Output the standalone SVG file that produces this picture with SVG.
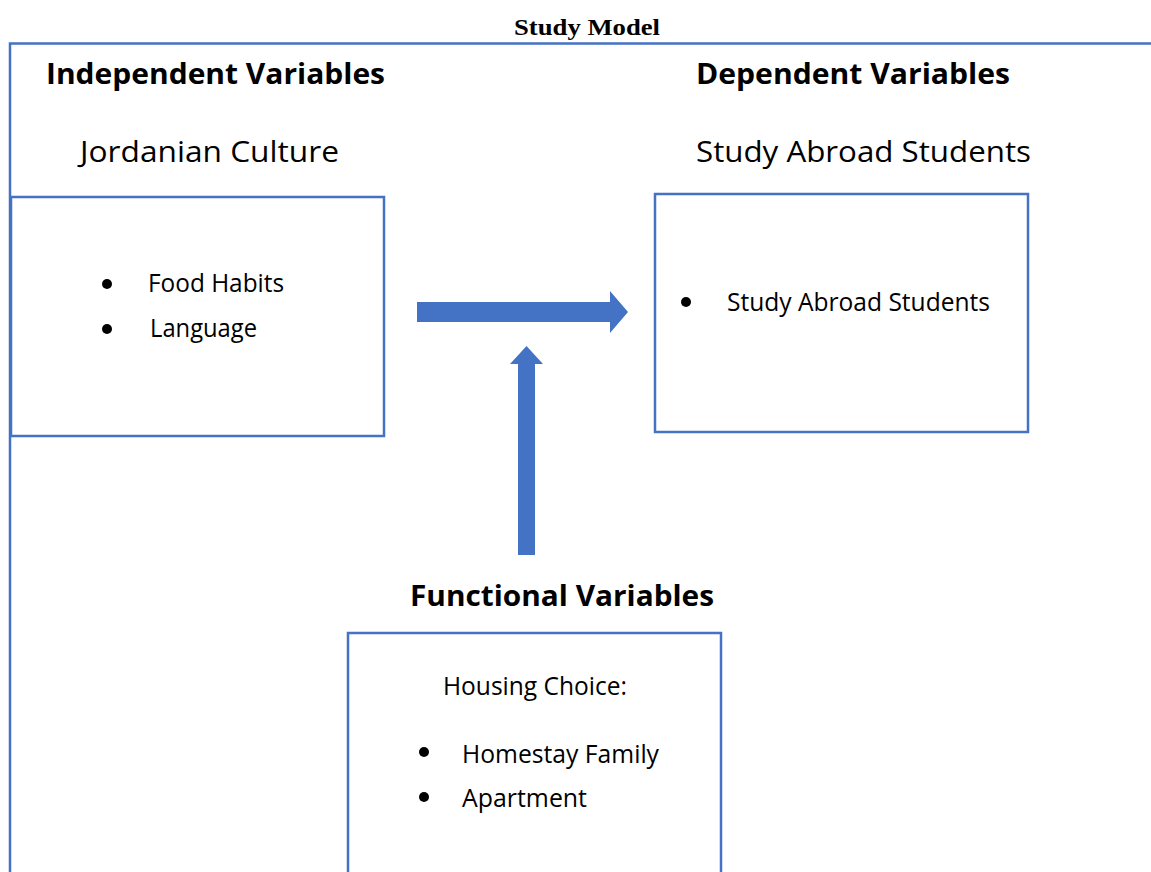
<svg xmlns="http://www.w3.org/2000/svg" width="1151" height="872" viewBox="0 0 1151 872">
<style>
.frame{fill:none;stroke:#4472C4;stroke-width:2.5}
.box{fill:#FFFFFF;stroke:#4472C4;stroke-width:2.5}
.arrow{fill:#4472C4;stroke:none}
.title{font-family:"Liberation Serif","Times New Roman",serif;font-weight:bold;font-size:24px;fill:#000}
.head{font-family:"Open Sans","Noto Sans",sans-serif;font-weight:bold;font-size:28px;fill:#000}
.sub{font-family:"Open Sans","Noto Sans",sans-serif;font-size:30px;fill:#000}
.body{font-family:"Open Sans","Noto Sans",sans-serif;font-size:26px;fill:#000}
.dot{fill:#000}
</style>
<rect width="1151" height="872" fill="#FFFFFF"/>
<text class="title" x="514" y="35" textLength="146" lengthAdjust="spacingAndGlyphs">Study Model</text>
<path class="frame" d="M10,872 V43.5 H1151"/>
<g id="independent">
<text class="head" x="46" y="84" textLength="339" lengthAdjust="spacingAndGlyphs">Independent Variables</text>
<text class="sub" x="80" y="162" textLength="259" lengthAdjust="spacingAndGlyphs">Jordanian Culture</text>
<rect class="box" x="11" y="197" width="373" height="239"/>
<circle class="dot" cx="107" cy="284" r="5"/>
<text class="body" x="148" y="292" textLength="136" lengthAdjust="spacingAndGlyphs">Food Habits</text>
<circle class="dot" cx="107" cy="329" r="5"/>
<text class="body" x="150" y="337" textLength="107" lengthAdjust="spacingAndGlyphs">Language</text>
</g>
<g id="dependent">
<text class="head" x="696" y="84" textLength="314" lengthAdjust="spacingAndGlyphs">Dependent Variables</text>
<text class="sub" x="696" y="162" textLength="335" lengthAdjust="spacingAndGlyphs">Study Abroad Students</text>
<rect class="box" x="655" y="194" width="373" height="238"/>
<circle class="dot" cx="686" cy="302" r="5"/>
<text class="body" x="727" y="311" textLength="263" lengthAdjust="spacingAndGlyphs">Study Abroad Students</text>
</g>
<g id="functional">
<text class="head" x="410" y="606" textLength="304" lengthAdjust="spacingAndGlyphs">Functional Variables</text>
<rect class="box" x="348" y="633" width="373" height="245"/>
<text class="body" x="443" y="695" textLength="184" lengthAdjust="spacingAndGlyphs">Housing Choice:</text>
<circle class="dot" cx="424" cy="752" r="5"/>
<text class="body" x="462" y="763" textLength="197" lengthAdjust="spacingAndGlyphs">Homestay Family</text>
<circle class="dot" cx="424" cy="797" r="5"/>
<text class="body" x="462" y="807" textLength="125" lengthAdjust="spacingAndGlyphs">Apartment</text>
</g>
<g id="connectors">
<polygon class="arrow" points="417,302 610,302 610,291 628,312 610,333 610,322 417,322"/>
<polygon class="arrow" points="518,555 518,364 510,364 526.5,346 543,364 535,364 535,555"/>
</g>
</svg>
